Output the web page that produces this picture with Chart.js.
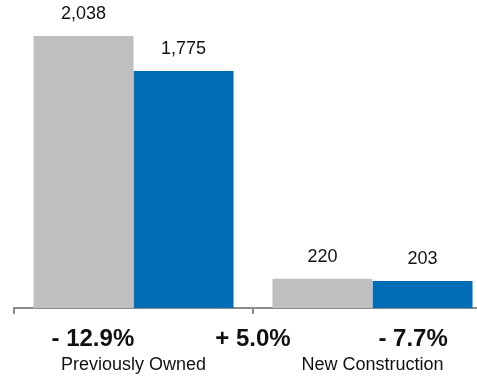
<!DOCTYPE html>
<html lang="en">
<head>
    <meta charset="UTF-8">
    <title>Home Sales</title>
    <script src="https://cdn.jsdelivr.net/npm/chart.js"></script>
    <style>
        body {
            margin: 0;
            padding: 0;
            background: #fff;
            overflow: hidden;
        }
        .chart-box {
            width: 500px;
            height: 377px;
        }
    </style>
</head>
<body>
    <div class="chart-box">
        <canvas id="chart"></canvas>
    </div>

    <script>
        // Data
        const categories = ['Previously Owned', 'New Construction'];
        const seriesPrior = [2038, 220];
        const seriesCurrent = [1775, 203];
        const changeLabels = ['- 12.9%', '+ 5.0%', '- 7.7%'];

        // where each change label sits, in category units
        const changeSpots = [-0.17, 0.5, 1.17];

        const fontFamily = "'Liberation Sans', Arial, Helvetica, sans-serif";

        // Draws the value labels above bars and the text below the axis
        const labelPlugin = {
            id: 'labelPlugin',
            afterDatasetsDraw(chart) {
                const ctx = chart.ctx;
                const xScale = chart.scales.x;
                ctx.save();
                ctx.fillStyle = '#111';
                ctx.textAlign = 'center';

                // values above bars
                ctx.font = '18px ' + fontFamily;
                ctx.textBaseline = 'bottom';
                chart.data.datasets.forEach((ds, di) => {
                    const meta = chart.getDatasetMeta(di);
                    meta.data.forEach((bar, i) => {
                        ctx.fillText(ds.data[i].toLocaleString('en-US'), bar.x, bar.y - 13);
                    });
                });

                ctx.textBaseline = 'middle';
                const base = chart.chartArea.bottom;

                // change percentages
                ctx.font = 'bold 24px ' + fontFamily;
                changeLabels.forEach((txt, i) => {
                    ctx.fillText(txt, xScale.getPixelForValue(changeSpots[i]), base + 31);
                });

                // category names
                ctx.font = '18px ' + fontFamily;
                categories.forEach((c, i) => {
                    ctx.fillText(c, xScale.getPixelForValue(i), base + 57);
                });
                ctx.restore();
            }
        };

        new Chart(document.getElementById('chart'), {
            type: 'bar',
            data: {
                labels: categories,
                datasets: [
                    {
                        label: 'Prior',
                        data: seriesPrior,
                        backgroundColor: '#bfbfbf',
                        categoryPercentage: 0.837,
                        barPercentage: 1.0
                    },
                    {
                        label: 'Current',
                        data: seriesCurrent,
                        backgroundColor: '#006db6',
                        categoryPercentage: 0.837,
                        barPercentage: 1.0
                    }
                ]
            },
            options: {
                responsive: true,
                maintainAspectRatio: false,
                animation: false,
                layout: {
                    padding: { top: 1, left: 14, right: 8, bottom: 63 }
                },
                plugins: {
                    legend: { display: false },
                    tooltip: { enabled: false }
                },
                scales: {
                    x: {
                        offset: true,
                        grid: {
                            offset: true,
                            drawOnChartArea: false,
                            drawTicks: true,
                            tickLength: 6,
                            color: '#8c8c8c',
                            lineWidth: 2
                        },
                        border: { display: true, color: '#8c8c8c', width: 2 },
                        ticks: { display: false }
                    },
                    y: {
                        display: false,
                        min: 0,
                        max: 2300
                    }
                }
            },
            plugins: [labelPlugin]
        });
    </script>
</body>
</html>
